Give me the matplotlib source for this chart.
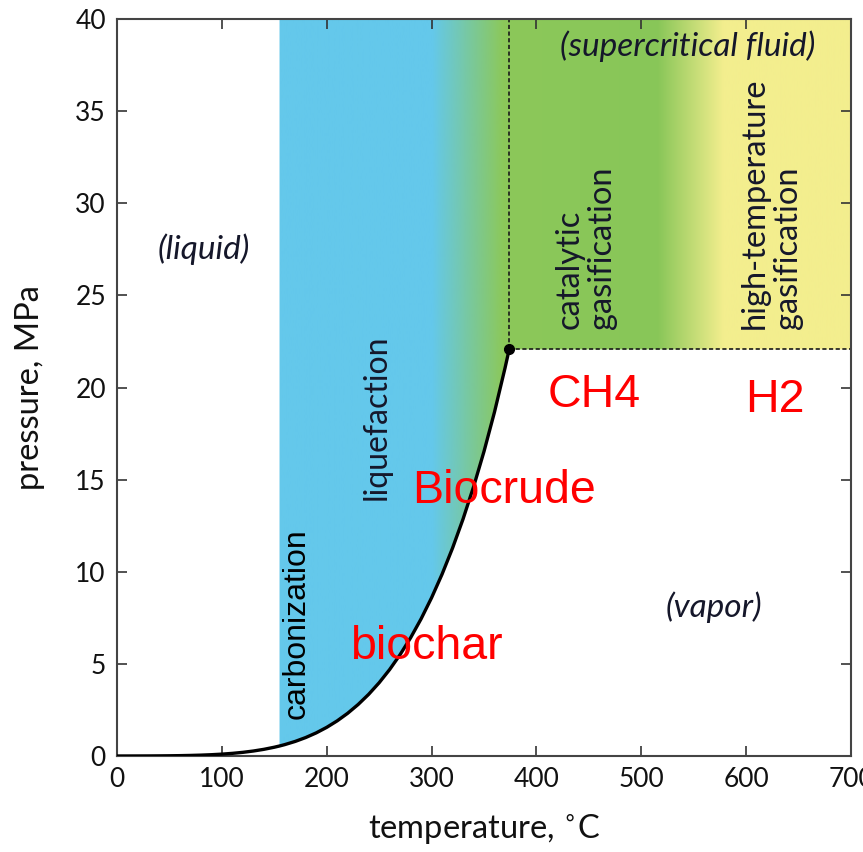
import numpy as np
import matplotlib
matplotlib.use("Agg")
import matplotlib.pyplot as plt
from matplotlib.patches import Polygon
from matplotlib.colors import to_rgb

# --- data: water saturation curve (temperature degC, pressure MPa) ---
sat_temp = [0, 10, 20, 30, 40, 50, 60, 70, 80, 90, 100, 110, 120, 130, 140, 150, 155, 160,
            170, 180, 190, 200, 210, 220, 230, 240, 250, 260, 270, 280, 290, 300, 310, 320,
            330, 340, 350, 360, 370, 374]
sat_pres = [0.0006, 0.0012, 0.0023, 0.0042, 0.0074, 0.0124, 0.0199, 0.0312, 0.0474, 0.0702,
            0.1014, 0.1434, 0.1987, 0.2703, 0.3615, 0.4762, 0.5433, 0.6181, 0.7921, 1.0028,
            1.2552, 1.5549, 1.9077, 2.3196, 2.7971, 3.3469, 3.9762, 4.6923, 5.5030, 6.4166,
            7.4418, 8.5879, 9.8651, 11.284, 12.858, 14.601, 16.529, 18.666, 21.044, 22.064]
crit_temp, crit_pres = 374, 22.064
carb_start = 155           # left edge of the shaded process region
t_max, p_max = 700, 40

x_ticks = [0, 100, 200, 300, 400, 500, 600, 700]
y_ticks = [0, 5, 10, 15, 20, 25, 30, 35, 40]

# colour stops across temperature (blue -> green -> yellow)
stop_temp = [0, 300, 368, 515, 578, 700]
stop_col = ["#64c8eb", "#64c8eb", "#8cc85a", "#88c658", "#f3ee8e", "#f3ee8e"]

plt.rcParams["font.family"] = ["Lato", "DejaVu Sans"]

fig = plt.figure(figsize=(8.63, 8.52), dpi=100)
ax = fig.add_axes([117 / 863, 1 - 756 / 852, (851 - 117) / 863, (756 - 19) / 852])

# gradient image clipped to the region above the curve / above critical pressure
xs = np.linspace(0, t_max, 800)
rgb = np.array([to_rgb(c) for c in stop_col])
img = np.stack([np.interp(xs, stop_temp, rgb[:, k]) for k in range(3)], axis=-1)[None, :, :]
im = ax.imshow(img, extent=[0, t_max, 0, p_max], aspect="auto", origin="lower", zorder=0)

i0 = sat_temp.index(carb_start)
poly_pts = [(carb_start, p_max)] + list(zip(sat_temp[i0:], sat_pres[i0:])) + \
           [(t_max, crit_pres), (t_max, p_max)]
clip = Polygon(poly_pts, closed=True, transform=ax.transData, facecolor="none", edgecolor="none")
ax.add_patch(clip)
im.set_clip_path(clip)

# saturation curve, critical point, dashed boundaries
ax.plot(sat_temp, sat_pres, color="black", lw=2.4, zorder=3, solid_capstyle="butt")
ax.plot([crit_temp], [crit_pres], "o", color="black", ms=7, zorder=4)
ax.plot([crit_temp, crit_temp], [crit_pres, p_max], color="#1a1a1a", lw=1.2, ls=(0, (2.5, 1.5)), zorder=2)
ax.plot([crit_temp, t_max], [crit_pres, crit_pres], color="#1a1a1a", lw=1.2, ls=(0, (2.5, 1.5)), zorder=2)

ax.set_xlim(0, t_max)
ax.set_ylim(0, p_max)
ax.set_xticks(x_ticks)
ax.set_yticks(y_ticks)
ax.tick_params(direction="in", top=True, right=True, length=7, width=1.2, color="#333333",
               labelsize=19, pad=8, labelcolor="#111111")
for s in ax.spines.values():
    s.set_color("#444444")
    s.set_linewidth(1.5)

ax.set_xlabel("temperature, $^{\\circ}$C", fontsize=23.5, labelpad=15, color="#111111")
ax.set_ylabel("pressure, MPa", fontsize=23.5, labelpad=22, color="#111111")

# region labels
dark = "#15172a"
ax.text(83, 27.5, "(liquid)", style="italic", fontsize=24, ha="center", va="center", color=dark)
ax.text(544, 38.5, "(supercritical fluid)", style="italic", fontsize=24, ha="center", va="center", color=dark)
ax.text(569, 8.1, "(vapor)", style="italic", fontsize=24, ha="center", va="center", color=dark)
ax.text(171, 7.2, "carbonization", family=["Liberation Sans"], fontsize=23, rotation=90,
        ha="center", va="center", color="black")
ax.text(248, 18.4, "liquefaction", fontsize=23, rotation=90, ha="center", va="center", color=dark)
ax.text(447, 23.2, "catalytic\ngasification", fontsize=23.5, rotation=90, ha="center", va="bottom",
        multialignment="left", linespacing=1.1, color=dark)
ax.text(624, 23.2, "high-temperature\ngasification", fontsize=23.5, rotation=90, ha="center", va="bottom",
        multialignment="left", linespacing=1.1, color=dark)

# product labels
red_font = dict(family=["Liberation Sans"], fontsize=33.5, color="red", ha="center", va="center")
ax.text(455, 19.6, "CH4", **red_font)
ax.text(627, 19.3, "H2", **red_font)
ax.text(369, 14.4, "Biocrude", **red_font)
ax.text(295, 5.9, "biochar", **red_font)

fig.savefig("out.png", dpi=100)
